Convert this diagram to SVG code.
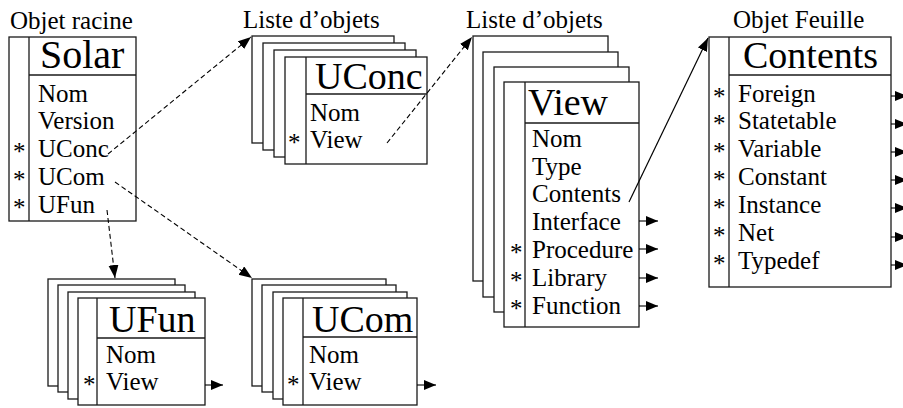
<svg xmlns="http://www.w3.org/2000/svg" width="903" height="408" viewBox="0 0 903 408">
  <style>
    .box { fill: #fff; stroke: #1a1a1a; stroke-width: 1.3; }
    .sep { stroke: #1a1a1a; stroke-width: 1.3; fill: none; }
    .dash { stroke: #000; stroke-width: 1.1; fill: none; stroke-dasharray: 5 3; }
    .solid { stroke: #000; stroke-width: 1.2; fill: none; }
    .out { stroke: #000; stroke-width: 1.1; fill: none; }
  </style>
  <defs>
    <marker id="head" markerUnits="userSpaceOnUse" markerWidth="14" markerHeight="11" refX="13" refY="5" orient="auto">
      <path d="M0,0 L13,5 L0,10 Z" fill="#000" stroke="none"/>
    </marker>
    <marker id="tip" markerUnits="userSpaceOnUse" markerWidth="13" markerHeight="11" refX="12" refY="5" orient="auto">
      <path d="M0,0 L12,5 L0,10 Z" fill="#000" stroke="none"/>
    </marker>
  </defs>

  <!-- root object -->
  <g id="solar">
    <text font-family="Liberation Serif" font-size="25" x="10" y="29">Objet racine</text>
    <rect class="box" x="9" y="37" width="127" height="184"/>
    <line class="sep" x1="29" y1="37" x2="29" y2="221"/>
    <line class="sep" x1="29" y1="75" x2="136" y2="75"/>
    <text font-family="Liberation Serif" font-size="40" x="40" y="68">Solar</text>
    <text font-family="Liberation Serif" font-size="25" x="38" y="102">Nom</text>
    <text font-family="Liberation Serif" font-size="25" x="38" y="129">Version</text>
    <text font-family="Liberation Serif" font-size="25" x="38" y="157">UConc</text>
    <text font-family="Liberation Serif" font-size="25" x="38" y="185">UCom</text>
    <text font-family="Liberation Serif" font-size="25" x="38" y="213">UFun</text>
    <text font-family="Liberation Serif" font-size="25" x="13" y="160">*</text>
    <text font-family="Liberation Serif" font-size="25" x="13" y="188">*</text>
    <text font-family="Liberation Serif" font-size="25" x="13" y="216">*</text>
  </g>

  <!-- UConc list -->
  <g id="uconc">
    <text font-family="Liberation Serif" font-size="25" x="243" y="28">Liste d’objets</text>
    <rect class="box" x="252" y="36" width="142" height="107"/>
    <rect class="box" x="263" y="43" width="142" height="107"/>
    <rect class="box" x="274" y="50" width="142" height="107"/>
    <rect class="box" x="285" y="57" width="142" height="107"/>
    <line class="sep" x1="306" y1="57" x2="306" y2="164"/>
    <line class="sep" x1="306" y1="94" x2="427" y2="94"/>
    <text font-family="Liberation Serif" font-size="38" x="315" y="89">UConc</text>
    <text font-family="Liberation Serif" font-size="25" x="310" y="121">Nom</text>
    <text font-family="Liberation Serif" font-size="25" x="310" y="148">View</text>
    <text font-family="Liberation Serif" font-size="25" x="288" y="151">*</text>
  </g>

  <!-- View list -->
  <g id="view">
    <text font-family="Liberation Serif" font-size="25" x="466" y="28">Liste d’objets</text>
    <rect class="box" x="473" y="36" width="135" height="245"/>
    <rect class="box" x="483" y="52" width="135" height="245"/>
    <rect class="box" x="494" y="67" width="135" height="245"/>
    <rect class="box" x="504" y="82" width="135" height="245"/>
    <line class="sep" x1="525" y1="82" x2="525" y2="327"/>
    <line class="sep" x1="525" y1="123" x2="639" y2="123"/>
    <text font-family="Liberation Serif" font-size="38" x="528" y="115">View</text>
    <text font-family="Liberation Serif" font-size="25" x="532" y="147">Nom</text>
    <text font-family="Liberation Serif" font-size="25" x="532" y="175">Type</text>
    <text font-family="Liberation Serif" font-size="25" x="532" y="202">Contents</text>
    <text font-family="Liberation Serif" font-size="25" x="532" y="230">Interface</text>
    <text font-family="Liberation Serif" font-size="25" x="532" y="258">Procedure</text>
    <text font-family="Liberation Serif" font-size="25" x="532" y="286">Library</text>
    <text font-family="Liberation Serif" font-size="25" x="532" y="314">Function</text>
    <text font-family="Liberation Serif" font-size="25" x="510" y="261">*</text>
    <text font-family="Liberation Serif" font-size="25" x="510" y="289">*</text>
    <text font-family="Liberation Serif" font-size="25" x="510" y="317">*</text>
  </g>

  <!-- leaf object -->
  <g id="contents">
    <text font-family="Liberation Serif" font-size="25" x="733" y="28">Objet Feuille</text>
    <rect class="box" x="709" y="37" width="182" height="250"/>
    <line class="sep" x1="729" y1="37" x2="729" y2="287"/>
    <line class="sep" x1="729" y1="75" x2="891" y2="75"/>
    <text font-family="Liberation Serif" font-size="38" x="743" y="68">Contents</text>
    <text font-family="Liberation Serif" font-size="25" x="738" y="102">Foreign</text>
    <text font-family="Liberation Serif" font-size="25" x="738" y="129">Statetable</text>
    <text font-family="Liberation Serif" font-size="25" x="738" y="157">Variable</text>
    <text font-family="Liberation Serif" font-size="25" x="738" y="185">Constant</text>
    <text font-family="Liberation Serif" font-size="25" x="738" y="213">Instance</text>
    <text font-family="Liberation Serif" font-size="25" x="738" y="241">Net</text>
    <text font-family="Liberation Serif" font-size="25" x="738" y="269">Typedef</text>
    <text font-family="Liberation Serif" font-size="25" x="713" y="105">*</text>
    <text font-family="Liberation Serif" font-size="25" x="713" y="132">*</text>
    <text font-family="Liberation Serif" font-size="25" x="713" y="160">*</text>
    <text font-family="Liberation Serif" font-size="25" x="713" y="188">*</text>
    <text font-family="Liberation Serif" font-size="25" x="713" y="216">*</text>
    <text font-family="Liberation Serif" font-size="25" x="713" y="244">*</text>
    <text font-family="Liberation Serif" font-size="25" x="713" y="272">*</text>
  </g>

  <!-- UFun list -->
  <g id="ufun">
    <rect class="box" x="48" y="279" width="127" height="107"/>
    <rect class="box" x="58" y="285" width="127" height="107"/>
    <rect class="box" x="68" y="292" width="127" height="107"/>
    <rect class="box" x="78" y="298" width="127" height="107"/>
    <line class="sep" x1="97" y1="298" x2="97" y2="405"/>
    <line class="sep" x1="97" y1="338" x2="205" y2="338"/>
    <text font-family="Liberation Serif" font-size="38" x="109" y="332">UFun</text>
    <text font-family="Liberation Serif" font-size="25" x="106" y="363">Nom</text>
    <text font-family="Liberation Serif" font-size="25" x="106" y="390">View</text>
    <text font-family="Liberation Serif" font-size="25" x="83" y="393">*</text>
  </g>

  <!-- UCom list -->
  <g id="ucom">
    <rect class="box" x="252" y="279" width="134" height="107"/>
    <rect class="box" x="262" y="285" width="134" height="107"/>
    <rect class="box" x="273" y="292" width="134" height="107"/>
    <rect class="box" x="283" y="298" width="134" height="107"/>
    <line class="sep" x1="303" y1="298" x2="303" y2="405"/>
    <line class="sep" x1="303" y1="337" x2="417" y2="337"/>
    <text font-family="Liberation Serif" font-size="38" x="312" y="332">UCom</text>
    <text font-family="Liberation Serif" font-size="25" x="309" y="363">Nom</text>
    <text font-family="Liberation Serif" font-size="25" x="309" y="390">View</text>
    <text font-family="Liberation Serif" font-size="25" x="287" y="393">*</text>
  </g>

  <!-- connectors -->
  <g id="connectors">
    <line class="dash" x1="108" y1="154" x2="251" y2="37" marker-end="url(#head)"/>
    <line class="dash" x1="115" y1="182" x2="252" y2="278" marker-end="url(#head)"/>
    <line class="dash" x1="107" y1="210" x2="115" y2="278" marker-end="url(#head)"/>
    <line class="dash" x1="387" y1="143" x2="472" y2="37" marker-end="url(#head)"/>
    <line class="solid" x1="629" y1="202" x2="708" y2="38" marker-end="url(#head)"/>

    <line class="out" x1="639" y1="221" x2="658" y2="221" marker-end="url(#tip)"/>
    <line class="out" x1="639" y1="249" x2="658" y2="249" marker-end="url(#tip)"/>
    <line class="out" x1="639" y1="278" x2="658" y2="278" marker-end="url(#tip)"/>
    <line class="out" x1="639" y1="306" x2="658" y2="306" marker-end="url(#tip)"/>

    <line class="out" x1="891" y1="96" x2="907" y2="96" marker-end="url(#tip)"/>
    <line class="out" x1="891" y1="124" x2="907" y2="124" marker-end="url(#tip)"/>
    <line class="out" x1="891" y1="152" x2="907" y2="152" marker-end="url(#tip)"/>
    <line class="out" x1="891" y1="180" x2="907" y2="180" marker-end="url(#tip)"/>
    <line class="out" x1="891" y1="208" x2="907" y2="208" marker-end="url(#tip)"/>
    <line class="out" x1="891" y1="237" x2="907" y2="237" marker-end="url(#tip)"/>
    <line class="out" x1="891" y1="265" x2="907" y2="265" marker-end="url(#tip)"/>

    <line class="out" x1="205" y1="385" x2="223" y2="385" marker-end="url(#tip)"/>
    <line class="out" x1="417" y1="385" x2="436" y2="385" marker-end="url(#tip)"/>
  </g>
</svg>
